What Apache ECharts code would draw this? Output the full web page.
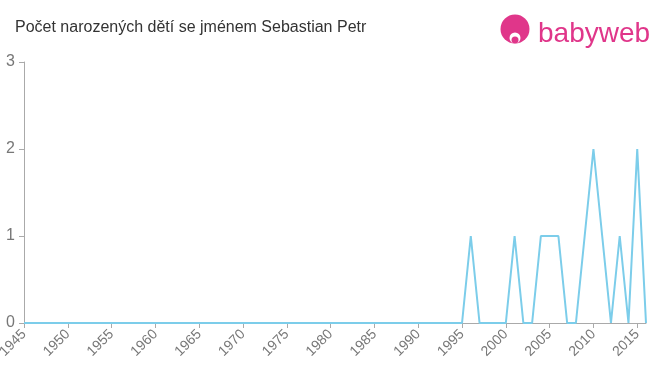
<!DOCTYPE html>
<html><head><meta charset="utf-8">
<script src="https://cdn.jsdelivr.net/npm/echarts@6/dist/echarts.min.js"></script>
<style>html,body{margin:0;padding:0;background:#fff}#c{width:660px;height:375px}</style>
</head><body><div id="c"></div>
<script>
const titleText = "Počet narozených dětí se jménem Sebastian Petr";
const years = [1945,1946,1947,1948,1949,1950,1951,1952,1953,1954,1955,1956,1957,1958,1959,1960,1961,1962,1963,1964,1965,1966,1967,1968,1969,1970,1971,1972,1973,1974,1975,1976,1977,1978,1979,1980,1981,1982,1983,1984,1985,1986,1987,1988,1989,1990,1991,1992,1993,1994,1995,1996,1997,1998,1999,2000,2001,2002,2003,2004,2005,2006,2007,2008,2009,2010,2011,2012,2013,2014,2015,2016];
const counts = [0,0,0,0,0,0,0,0,0,0,0,0,0,0,0,0,0,0,0,0,0,0,0,0,0,0,0,0,0,0,0,0,0,0,0,0,0,0,0,0,0,0,0,0,0,0,0,0,0,0,0,1,0,0,0,0,1,0,0,1,1,1,0,0,1,2,1,0,1,0,2,0];
const yTicks = [0,1,2,3];

const chart = echarts.init(document.getElementById('c'));
chart.setOption({
  animation:false,
  title:{text:titleText,left:10,top:15,textStyle:{fontFamily:'Liberation Sans, Arial',fontSize:16,fontWeight:'normal',color:'#333'}},
  graphic:[
    {type:'circle',shape:{cx:515,cy:29,r:14.5},style:{fill:'#e0368a'}},
    {type:'circle',shape:{cx:515,cy:38,r:5.5},style:{fill:'#fff'}},
    {type:'circle',shape:{cx:515,cy:40,r:3.5},style:{fill:'#e0368a'}},
    {type:'text',left:538,top:20,style:{text:'babyweb',fill:'#e0368a',font:'28px "Liberation Sans", Arial'}}
  ],
  grid:{left:24,right:14,top:62,bottom:52,containLabel:false,outerBoundsMode:'none'},
  xAxis:{type:'value',min:1945,max:2016,interval:5,
    axisLine:{lineStyle:{color:'#aaa'}},
    axisTick:{show:true,length:5,lineStyle:{color:'#aaa'}},
    splitLine:{show:false},
    axisLabel:{rotate:45,color:'#777',fontSize:14,fontFamily:'Liberation Sans, Arial',showMaxLabel:false,margin:9,formatter:v=>String(v)}},
  yAxis:{type:'value',min:yTicks[0],max:yTicks[yTicks.length-1],interval:1,
    axisLine:{show:true,lineStyle:{color:'#aaa'}},
    axisTick:{show:true,length:5,lineStyle:{color:'#aaa'}},
    splitLine:{show:false},
    axisLabel:{color:'#777',fontSize:16,fontFamily:'Liberation Sans, Arial',margin:9}},
  series:[{type:'line',data:years.map((y,i)=>[y,counts[i]]),showSymbol:false,
    lineStyle:{color:'#7ccdea',width:2},itemStyle:{color:'#7ccdea'}}]
});
</script></body></html>
